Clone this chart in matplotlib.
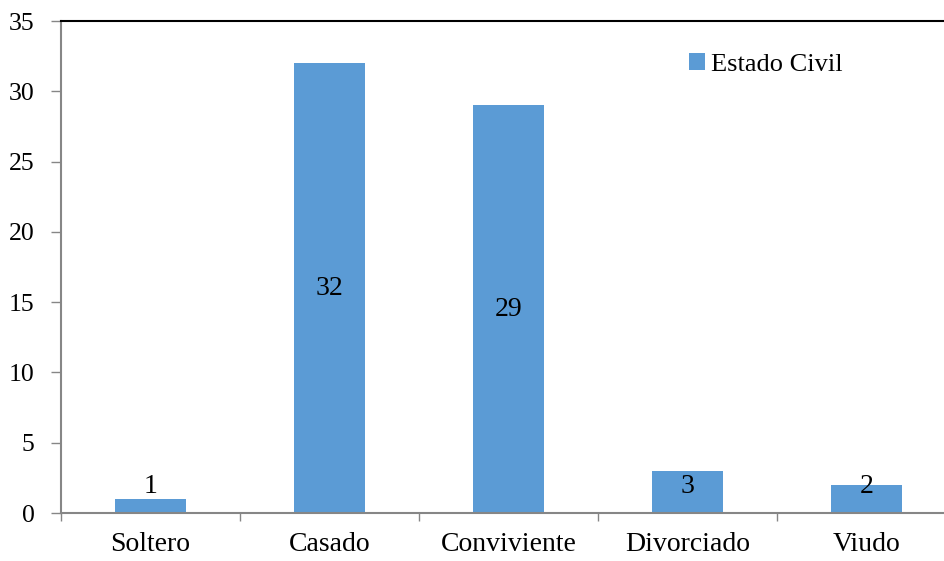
import numpy as np
import matplotlib
matplotlib.use("Agg")
from matplotlib import pyplot as plt

categorias = ["Soltero", "Casado", "Conviviente", "Divorciado", "Viudo"]
valores = [1, 32, 29, 3, 2]
serie = "Estado Civil"

plt.rcParams['font.family'] = ['Liberation Serif', 'DejaVu Serif']

fig = plt.figure(figsize=(9.45, 5.61), dpi=100)
# plot area: left 61px, top 21px, bottom 513px, category width ~179px
W, H = 945.0, 561.0
ax = fig.add_axes([61 / W, (H - 513) / H, (5 * 179) / W, (513 - 21) / H])

x = np.arange(len(categorias))
bars = ax.bar(x, valores, width=0.4, color="#5B9BD5", label=serie, zorder=2)

for xi, v in zip(x, valores):
    ax.text(xi, max(v / 2, 1.92), str(v), ha="center", va="center", fontsize=20, color="black", zorder=3)

ax.set_xlim(-0.5, len(categorias) - 0.5)
ax.set_ylim(0, 35)
ax.set_yticks(np.arange(0, 36, 5))
ax.tick_params(axis="y", labelsize=18.5, length=7, width=1, color="#868686", pad=12)

ax.set_xticks(x)
ax.set_xticklabels(categorias)
ax.set_xticks(np.arange(-0.5, len(categorias), 1), minor=True)
ax.tick_params(axis="x", which="major", length=0, labelsize=20, pad=14)
ax.tick_params(axis="x", which="minor", length=6, width=1, color="#868686")

ax.spines["left"].set_color("#868686")
ax.spines["left"].set_linewidth(1.5)
ax.spines["bottom"].set_color("#868686")
ax.spines["bottom"].set_linewidth(1.5)
ax.spines["top"].set_color("black")
ax.spines["top"].set_linewidth(1.5)
ax.spines["right"].set_visible(False)

leg = ax.legend(loc="upper left", bbox_to_anchor=(0.675, 0.983), frameon=False, fontsize=19,
                handlelength=0.62, handleheight=0.62, handletextpad=0.22)

fig.savefig("out.png", dpi=100)
